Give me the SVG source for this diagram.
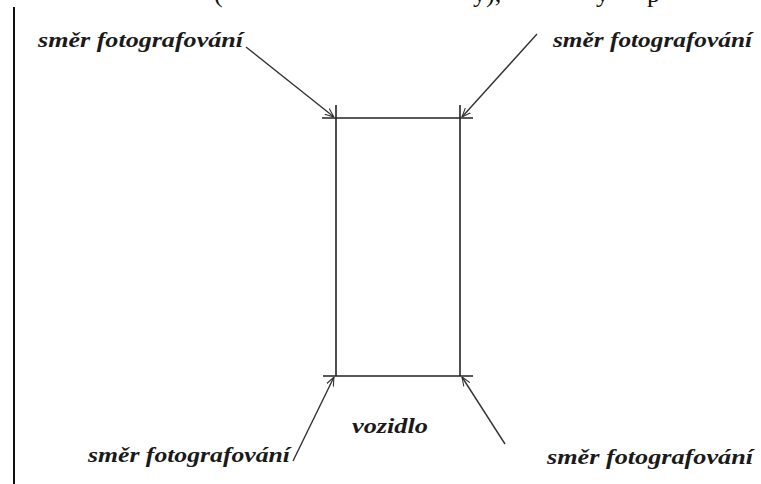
<svg xmlns="http://www.w3.org/2000/svg" width="761" height="484" viewBox="0 0 761 484">
<defs>
<style>
.lbl{font-family:"Liberation Serif","Times New Roman",serif;font-style:italic;font-weight:bold;font-size:21px;fill:#1a1a1a}
.frag{font-family:"Liberation Serif","Times New Roman",serif;font-size:26px;fill:#111}
.ln{stroke:#333;stroke-width:1.4;fill:none}
.rect{stroke:#222;stroke-width:1.6;fill:none}
</style>
<marker id="ah" viewBox="0 0 10 10" refX="10" refY="5" markerWidth="9" markerHeight="9" orient="auto" markerUnits="userSpaceOnUse">
<path d="M0,1 L10,5 L0,9" fill="none" stroke="#333" stroke-width="1.2"/>
</marker>
</defs>
<rect width="761" height="484" fill="#fff"/>
<line x1="14" y1="7" x2="14" y2="484" stroke="#111" stroke-width="2"/>
<g id="topfragments">
<text class="frag" x="214" y="2">(</text>
<text class="frag" x="473" y="2">y),</text>
<text class="frag" x="596" y="2">y</text>
<text class="frag" x="647" y="2">p</text>
</g>
<g id="vehicle">
<line class="rect" x1="322" y1="118" x2="473" y2="118"/>
<line class="rect" x1="323" y1="376" x2="473" y2="376"/>
<line class="rect" x1="336" y1="105" x2="336" y2="376"/>
<line class="rect" x1="460" y1="105" x2="460" y2="376"/>
<text class="lbl" x="352" y="433" textLength="76" lengthAdjust="spacingAndGlyphs">vozidlo</text>
</g>
<g id="connectors">
<line class="ln" x1="246" y1="47" x2="334" y2="117" marker-end="url(#ah)"/>
<line class="ln" x1="537" y1="34" x2="462" y2="117" marker-end="url(#ah)"/>
<line class="ln" x1="293" y1="461" x2="334" y2="377" marker-end="url(#ah)"/>
<line class="ln" x1="505" y1="444" x2="462" y2="377" marker-end="url(#ah)"/>
</g>
<g id="label-tl"><text class="lbl" x="38" y="47" textLength="205" lengthAdjust="spacingAndGlyphs">směr fotografování</text></g>
<g id="label-tr"><text class="lbl" x="553" y="47" textLength="199" lengthAdjust="spacingAndGlyphs">směr fotografování</text></g>
<g id="label-bl"><text class="lbl" x="88" y="462" textLength="202" lengthAdjust="spacingAndGlyphs">směr fotografování</text></g>
<g id="label-br"><text class="lbl" x="547" y="464" textLength="206" lengthAdjust="spacingAndGlyphs">směr fotografování</text></g>
</svg>
